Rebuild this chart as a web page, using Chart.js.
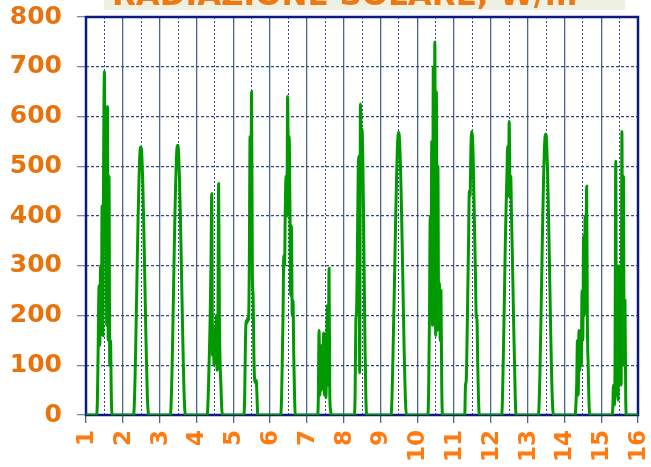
<!DOCTYPE html>
<html>
<head>
<meta charset="utf-8">
<script src="https://cdn.jsdelivr.net/npm/chart.js@4.4.1/dist/chart.umd.min.js"></script>
<style>
  html, body { margin: 0; padding: 0; background: #fff; }
  #wrap { width: 651px; height: 467px; position: relative; }
</style>
</head>
<body>
<div id="wrap"><canvas id="ctx"></canvas></div>
<script>
// solar radiation, W/m2, half-hour readings from 07:00 to 17:00 for each day
const firstHour = 7;
const stepHours = 0.5;
const days = [1, 2, 3, 4, 5, 6, 7, 8, 9, 10, 11, 12, 13, 14, 15];

const day1 = [0, 40, 150, 260, 140, 300, 170, 420, 160, 520, 690, 350, 600, 180, 620, 150, 480, 100, 150, 40, 0];
const day2 = [0, 20, 75, 150, 235, 320, 400, 465, 515, 538, 538, 515, 470, 405, 330, 250, 170, 100, 40, 8, 0];
const day3 = [0, 20, 75, 150, 235, 322, 403, 468, 518, 540, 542, 518, 473, 408, 332, 252, 172, 100, 40, 8, 0];
const day4 = [0, 20, 70, 130, 200, 300, 445, 120, 180, 100, 160, 110, 200, 90, 170, 465, 200, 100, 60, 15, 0];
const day5 = [0, 40, 150, 190, 185, 195, 190, 300, 560, 420, 650, 280, 240, 120, 70, 65, 70, 40, 0, 0, 0];
const day6 = [0, 30, 110, 200, 320, 300, 420, 480, 400, 640, 500, 560, 420, 240, 380, 200, 230, 120, 40, 0, 0];
const day7 = [0, 30, 170, 40, 130, 50, 140, 60, 165, 40, 120, 35, 150, 220, 60, 295, 40, 10, 0, 0, 0];
const day8 = [0, 40, 190, 210, 330, 480, 520, 85, 625, 560, 575, 520, 400, 260, 130, 40, 0, 0, 0, 0, 0];
const day9 = [0, 30, 90, 165, 240, 320, 400, 470, 530, 562, 568, 550, 510, 450, 375, 295, 210, 130, 65, 18, 0];
const day10 = [0, 60, 200, 400, 250, 550, 180, 700, 200, 750, 160, 650, 170, 500, 190, 265, 150, 250, 60, 0, 0];
const day11 = [0, 60, 70, 150, 250, 350, 450, 440, 530, 570, 560, 520, 440, 360, 280, 200, 190, 100, 30, 0, 0];
const day12 = [0, 20, 90, 170, 260, 350, 420, 480, 540, 440, 590, 460, 480, 400, 330, 250, 170, 100, 30, 0, 0];
const day13 = [0, 20, 78, 155, 242, 332, 415, 485, 538, 562, 565, 540, 492, 425, 346, 262, 178, 102, 42, 8, 0];
const day14 = [0, 20, 60, 150, 40, 170, 90, 130, 100, 250, 150, 360, 200, 400, 240, 460, 180, 100, 30, 0, 0];
const day15 = [0, 10, 60, 20, 100, 510, 40, 250, 30, 300, 100, 230, 60, 570, 200, 480, 100, 230, 30, 0, 0];

const dayValues = [day1, day2, day3, day4, day5, day6, day7, day8, day9, day10, day11, day12, day13, day14, day15];

const titleText = 'RADIAZIONE SOLARE, W/m²';
const yTicks = [0, 100, 200, 300, 400, 500, 600, 700, 800];
const xTicks = [1, 1.5, 2, 2.5, 3, 3.5, 4, 4.5, 5, 5.5, 6, 6.5, 7, 7.5, 8, 8.5, 9, 9.5, 10, 10.5, 11, 11.5, 12, 12.5, 13, 13.5, 14, 14.5, 15, 15.5, 16];
const xLabels = ['1', '2', '3', '4', '5', '6', '7', '8', '9', '10', '11', '12', '13', '14', '15', '16'];

let points = [{x: 1, y: 0}];
days.forEach((d, k) => {
    dayValues[k].forEach((v, i) => {
        points.push({x: d + (firstHour + i * stepHours) / 24, y: v});
    });
});
points.push({x: 16, y: 0});

const isWhole = v => Math.abs(v - Math.round(v)) < 1e-6;

// box with the cut-off title at the top
const titleBox = {
    id: 'titleBox',
    beforeDraw(chart) {
        const c = chart.ctx;
        c.save();
        c.fillStyle = '#eef0e2';
        c.fillRect(104, 0, 521, 10);
        c.fillStyle = '#f07810';
        c.font = 'bold 31px "DejaVu Sans"';
        c.textBaseline = 'alphabetic';
        c.textAlign = 'left';
        c.fillText(titleText, 112, 5);
        c.restore();
    }
};

// day numbers under the axis, turned to read upwards,
// anchored at their middle so they hang from y = axis + 15
const dayLabels = {
    id: 'dayLabels',
    afterDraw(chart) {
        const s = chart.scales.x;
        const c = chart.ctx;
        c.save();
        c.fillStyle = '#ff7a10';
        c.font = 'bold 23px "DejaVu Sans"';
        c.textAlign = 'center';
        c.textBaseline = 'middle';
        xLabels.forEach(t => {
            const w = c.measureText(t).width;
            c.save();
            c.translate(s.getPixelForValue(Number(t)) + 1, s.top + 15 + w / 2);
            c.rotate(-Math.PI / 2);
            c.fillText(t, 0, 0);
            c.restore();
        });
        c.restore();
    }
};

// navy frame round the plot, under the line
const frame = {
    id: 'frame',
    beforeDatasetsDraw(chart) {
        const a = chart.chartArea;
        const c = chart.ctx;
        c.save();
        c.strokeStyle = '#0c1a7c';
        c.lineWidth = 2.5;
        c.strokeRect(a.left, a.top, a.right - a.left, a.bottom - a.top);
        c.restore();
    }
};

new Chart(document.getElementById('ctx'), {
    type: 'line',
    data: {
        datasets: [{
            data: points,
            borderColor: '#009a00',
            borderWidth: 3,
            pointRadius: 0,
            cubicInterpolationMode: 'monotone',
            fill: false
        }]
    },
    options: {
        responsive: true,
        maintainAspectRatio: false,
        animation: false,
        layout: {padding: {top: 17, right: 13, left: 0, bottom: 0}},
        plugins: {legend: {display: false}, tooltip: {enabled: false}},
        scales: {
            x: {
                type: 'linear',
                min: 1,
                max: 16,
                afterBuildTicks: s => { s.ticks = xTicks.map(v => ({value: v})); },
                afterFit: s => { s.height = 52; s.paddingLeft = 0; s.paddingRight = 0; },
                ticks: {display: false},
                grid: {
                    color: c => (c.tick && isWhole(c.tick.value)) ? '#4a6690' : '#4040a8',
                    lineWidth: c => (c.tick && isWhole(c.tick.value)) ? 1.3 : 1,
                    tickColor: c => (c.tick && isWhole(c.tick.value)) ? '#4a6690' : 'rgba(0,0,0,0)',
                    tickLength: 8,
                    tickBorderDash: []
                },
                border: {
                    display: false,
                    dash: c => (c.tick && !isWhole(c.tick.value)) ? [2, 2] : []
                }
            },
            y: {
                min: 0,
                max: 800,
                afterFit: s => { s.width = 86; s.paddingTop = 0; s.paddingBottom = 0; },
                afterBuildTicks: s => { s.ticks = yTicks.map(v => ({value: v})); },
                ticks: {
                    padding: 15,
                    color: '#e8720c',
                    font: {family: 'DejaVu Sans', weight: 'bold', size: 25}
                },
                grid: {
                    color: '#2f4a80',
                    lineWidth: 1.3,
                    tickColor: '#6f88a8',
                    tickLength: 9,
                    tickBorderDash: []
                },
                border: {display: false, dash: [3, 2]}
            }
        }
    },
    plugins: [titleBox, frame, dayLabels]
});
</script>
</body>
</html>
